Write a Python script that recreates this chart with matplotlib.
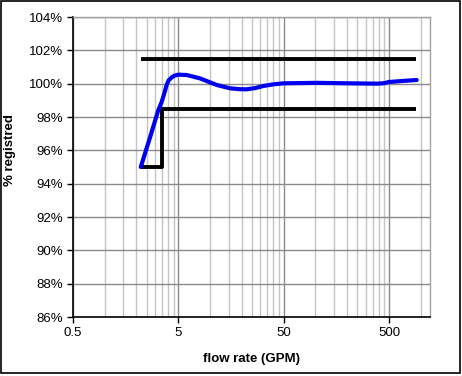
import matplotlib
matplotlib.use("Agg")
import matplotlib.pyplot as plt
from matplotlib.patches import Rectangle
from matplotlib.ticker import FixedLocator, NullFormatter

plt.rcParams['font.family'] = ['Liberation Sans', 'DejaVu Sans']

# measured curve (% registered vs flow rate)
flow = [2.2, 2.7, 3.23, 3.45, 3.6, 3.75, 3.87, 4.05, 4.33, 4.6, 5.0, 6.0, 8.0,
        11.6, 15.5, 19, 22.3, 27, 32, 40, 49.6, 103, 214, 383, 450, 500, 700, 916]
registered = [95.0, 96.8, 98.42, 98.85, 99.22, 99.6, 99.92, 100.2, 100.38, 100.48,
              100.54, 100.52, 100.32, 99.92, 99.72, 99.67, 99.66, 99.74, 99.86,
              99.96, 100.02, 100.05, 100.02, 100.0, 100.03, 100.1, 100.17, 100.22]

# accuracy envelope
upper_flow = [2.2, 900]
upper_pct = [101.5, 101.5]
lower_flow = [2.2, 3.5, 3.5, 900]
lower_pct = [95, 95, 98.5, 98.5]

xticks = [0.5, 5, 50, 500]
xtick_labels = ["0.5", "5", "50", "500"]
yticks = [86, 88, 90, 92, 94, 96, 98, 100, 102, 104]
ytick_labels = ["86%", "88%", "90%", "92%", "94%", "96%", "98%", "100%", "102%", "104%"]

W, H = 462, 376
fig = plt.figure(figsize=(W / 100, H / 100), dpi=100)
fig.patches.append(Rectangle((1 / W, 3 / H), 459 / W, 372 / H, transform=fig.transFigure,
                             fill=False, edgecolor='black', lw=1.2))
ax = fig.add_axes([73 / W, 1 - 317 / H, (430 - 73) / W, 300 / H])

ax.plot(upper_flow, upper_pct, color='black', lw=2.8, solid_capstyle='butt', zorder=3)
ax.plot(lower_flow, lower_pct, color='black', lw=2.8, solid_capstyle='butt', zorder=3)
ax.plot(flow, registered, color='#0000ee', lw=3.0, solid_capstyle='round',
        solid_joinstyle='round', zorder=4)

ax.set_xscale('log')
ax.set_xlim(0.5, 1225)
ax.set_ylim(86, 104)

minor = [m * 10.0 ** k for k in range(-1, 4) for m in (1, 1.5, 2, 2.5, 3, 3.5, 4, 4.5)]
minor = [v for v in minor if 0.5 < v < 1225]
ax.xaxis.set_major_locator(FixedLocator(xticks))
ax.set_xticklabels(xtick_labels)
ax.xaxis.set_minor_locator(FixedLocator(minor))
ax.xaxis.set_minor_formatter(NullFormatter())
ax.set_yticks(yticks)
ax.set_yticklabels(ytick_labels)

ax.grid(True, which='major', color='#8a8a8a', lw=1.0)
ax.grid(True, which='minor', axis='x', color='#c4c4c4', lw=1.0)
ax.set_axisbelow(True)

ax.tick_params(axis='both', which='major', direction='out', length=4, width=1,
               labelsize=9.5, pad=3)
ax.tick_params(axis='x', which='minor', length=0)
for s in ('left', 'bottom'):
    ax.spines[s].set_color('black')
    ax.spines[s].set_linewidth(1.2)
for s in ('top', 'right'):
    ax.spines[s].set_color('#a0a0a0')
    ax.spines[s].set_linewidth(1.0)

ax.set_xlabel("flow rate (GPM)", fontsize=9.5, fontweight='bold', labelpad=10)
ax.set_ylabel("% registred", fontsize=9.5, fontweight='bold')
ax.yaxis.set_label_coords((16 - 73) / 357, (317 - 150) / 300)

fig.savefig("out.png", dpi=100)
